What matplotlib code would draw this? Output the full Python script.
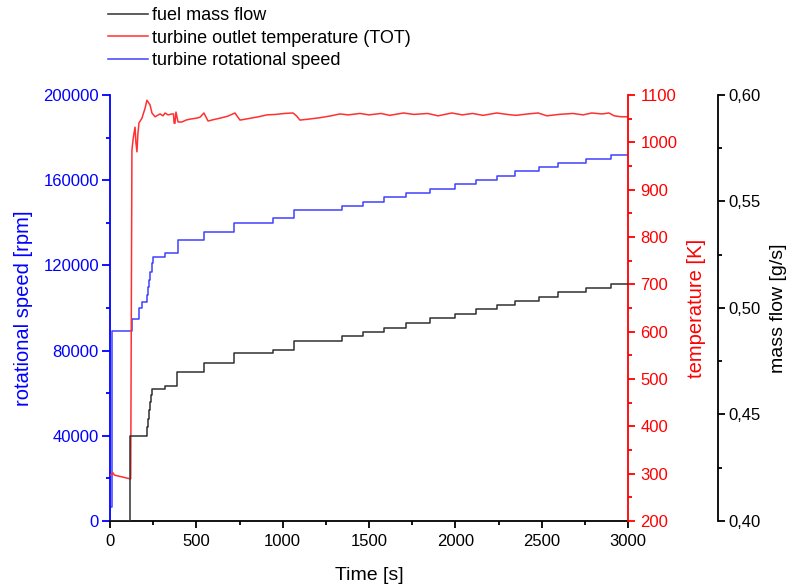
import matplotlib.pyplot as plt
from matplotlib.ticker import MultipleLocator, FuncFormatter

plt.rcParams['font.family'] = ['Liberation Sans', 'DejaVu Sans']

# DATA
# turbine rotational speed, step levels [rpm] starting at time [s]
speed_t = [0, 12, 127, 168, 185, 208, 214, 220, 226, 234, 242, 249, 319, 394, 544, 718,
           944, 1066, 1344, 1465, 1587, 1714, 1853, 1998, 2120, 2241, 2346, 2485, 2595,
           2757, 2902, 3000]
speed_rpm = [6500, 89000, 94800, 100000, 102800, 102800, 106000, 110000, 113000, 117000,
             121000, 124000, 125800, 132000, 135700, 140000, 142200, 146000, 147900, 149800,
             152100, 154000, 155900, 158200, 160100, 162000, 164300, 166200, 168100, 170000,
             171800, 171800]

# fuel mass flow, step levels [g/s]
fuel_t = [0, 116, 208, 214, 220, 226, 232, 238, 243, 319, 388, 544, 718, 944, 1066, 1344,
          1465, 1587, 1714, 1853, 1998, 2120, 2241, 2346, 2485, 2595, 2757, 2902, 3000]
fuel_gs = [0.400, 0.440, 0.440, 0.444, 0.448, 0.452, 0.456, 0.459, 0.462, 0.4634, 0.470,
           0.4742, 0.4789, 0.4803, 0.4845, 0.4869, 0.4887, 0.4906, 0.4928, 0.4952, 0.4972,
           0.4994, 0.5014, 0.5034, 0.5053, 0.5075, 0.5095, 0.5115, 0.5115]

# turbine outlet temperature [K]
tot_t = [0, 12, 17, 25, 60, 116, 120, 124, 127, 135, 145, 150, 156, 162, 168, 185, 203,
         214, 232, 243, 261, 290, 307, 319, 336, 359, 368, 371, 376, 382, 394, 417, 440,
         463, 500, 521, 544, 558, 568, 600, 637, 680, 724, 735, 753, 800, 860, 909, 960,
         1010, 1060, 1080, 1100, 1150, 1216, 1280, 1332, 1380, 1448, 1500, 1570, 1620,
         1700, 1760, 1840, 1900, 1980, 2040, 2100, 2160, 2240, 2300, 2350, 2420, 2480,
         2530, 2600, 2680, 2740, 2790, 2850, 2890, 2920, 2960, 3000]
tot_k = [297, 299, 302, 297, 294, 289, 289, 700, 984, 1010, 1032, 1000, 980, 1020, 1041,
         1051, 1072, 1089, 1079, 1062, 1054, 1060, 1056, 1062, 1058, 1060, 1060, 1041, 1040,
         1064, 1043, 1043, 1047, 1049, 1051, 1053, 1062, 1052, 1045, 1048, 1051, 1055, 1062,
         1056, 1047, 1050, 1054, 1058, 1059, 1061, 1062, 1056, 1047, 1049, 1052, 1056, 1060,
         1058, 1061, 1058, 1061, 1057, 1062, 1059, 1061, 1056, 1062, 1058, 1061, 1057, 1062,
         1059, 1057, 1060, 1062, 1056, 1059, 1061, 1058, 1062, 1060, 1062, 1056, 1054, 1054]

x_ticks = [0, 500, 1000, 1500, 2000, 2500, 3000]

# FIGURE
fig = plt.figure(figsize=(7.88, 5.85), dpi=100)
ax = fig.add_axes([110 / 788, 1 - 521 / 585, 518 / 788, 426 / 585])
ax_t = ax.twinx()
ax_m = ax.twinx()

blue = '#0000ff'
red = '#ff0000'

l_speed, = ax.step(speed_t, speed_rpm, where='post', color='#4040ff', lw=1.1)
l_tot, = ax_t.plot(tot_t, tot_k, color='#ff3030', lw=1.1)
l_fuel, = ax_m.step(fuel_t, fuel_gs, where='post', color='#303030', lw=1.1)

ax.set_xlim(0, 3000)
ax.set_xticks(x_ticks)
ax.xaxis.set_minor_locator(MultipleLocator(250))
ax.set_ylim(0, 200000)
ax.yaxis.set_major_locator(MultipleLocator(40000))
ax.yaxis.set_minor_locator(MultipleLocator(20000))
ax_t.set_ylim(200, 1100)
ax_t.yaxis.set_major_locator(MultipleLocator(100))
ax_t.yaxis.set_minor_locator(MultipleLocator(50))
ax_m.set_ylim(0.40, 0.60)
ax_m.yaxis.set_major_locator(MultipleLocator(0.05))
ax_m.yaxis.set_minor_locator(MultipleLocator(0.025))
ax_m.yaxis.set_major_formatter(FuncFormatter(lambda v, p: f"{v:.2f}".replace('.', ',')))

# spines
ax.spines['top'].set_visible(False)
ax.spines['right'].set_visible(False)
ax.spines['left'].set_color(blue)
for a in (ax_t, ax_m):
    a.spines['top'].set_visible(False)
    a.spines['left'].set_visible(False)
    a.spines['bottom'].set_visible(False)
ax_t.spines['right'].set_color(red)
ax_m.spines['right'].set_position(('outward', 64.5))
for a in (ax, ax_t, ax_m):
    for s in a.spines.values():
        s.set_linewidth(1.3)

ax.tick_params(axis='x', which='major', length=5, width=1.3, labelsize=12, pad=4)
ax.tick_params(axis='x', which='minor', length=3, width=1.3)
ax.tick_params(axis='y', which='major', length=6, width=1.3, colors=blue, labelsize=12, pad=2)
ax.tick_params(axis='y', which='minor', length=3, width=1.3, colors=blue)
ax_t.tick_params(axis='y', which='major', length=5, width=1.3, colors=red, labelsize=12, pad=4)
ax_t.tick_params(axis='y', which='minor', length=3, width=1.3, colors=red)
ax_m.tick_params(axis='y', which='major', length=5, width=1.3, colors='black', labelsize=12, pad=3)
ax_m.tick_params(axis='y', which='minor', length=3, width=1.3, colors='black')

ax.set_xlabel('Time [s]', fontsize=14)
ax.xaxis.set_label_coords(0.5, -0.108)
ax.set_ylabel('rotational speed [rpm]', fontsize=14.5, color=blue)
ax.yaxis.set_label_coords(-0.149, 0.5)
ax_t.set_ylabel('temperature [K]', fontsize=14.5, color=red)
ax_t.yaxis.set_label_coords(1.114, 0.5)
ax_m.set_ylabel('mass flow [g/s]', fontsize=14, color='black')
ax_m.yaxis.set_label_coords(1.275, 0.5)

fig.legend([l_fuel, l_tot, l_speed],
           ['fuel mass flow', 'turbine outlet temperature (TOT)', 'turbine rotational speed'],
           loc='upper left', bbox_to_anchor=(108 / 788, 1 - 7 / 585), frameon=False,
           fontsize=13, handlelength=2.2, handletextpad=0.25, labelspacing=0.31,
           borderpad=0, borderaxespad=0)

fig.savefig('out.png', dpi=100)
